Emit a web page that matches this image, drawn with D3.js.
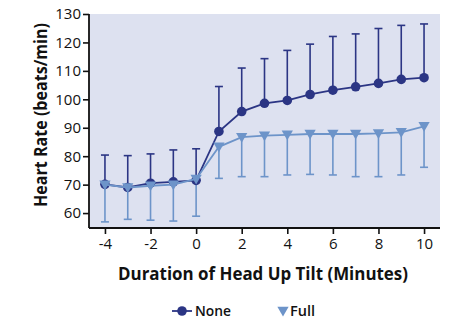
<!DOCTYPE html>
<html>
<head>
<meta charset="utf-8">
<script src="https://cdn.jsdelivr.net/npm/d3@7"></script>
<style>
  body { margin: 0; background: #fff; }
  svg text { font-family: "Open Sans", sans-serif; fill: #111; }
</style>
</head>
<body>
<svg id="chart" width="450" height="319"></svg>
<script>
const minutes = [-4, -3, -2, -1, 0, 1, 2, 3, 4, 5, 6, 7, 8, 9, 10];
const noneMean = [70.1, 69.0, 70.5, 71.0, 71.5, 88.7, 95.7, 98.6, 99.6, 101.7, 103.2, 104.4, 105.6, 107.0, 107.6];
const noneUpper = [80.4, 80.2, 80.8, 82.2, 82.6, 104.5, 111.0, 114.3, 117.2, 119.4, 122.1, 123.0, 124.9, 126.0, 126.5];
const fullMean = [70.0, 69.0, 69.6, 70.0, 72.0, 83.3, 86.7, 87.2, 87.5, 87.8, 87.8, 87.8, 88.0, 88.4, 90.5];
const fullLower = [56.9, 57.8, 57.5, 57.2, 58.9, 72.2, 72.8, 72.8, 73.4, 73.6, 73.4, 72.8, 72.8, 73.4, 76.1];
const xTicks = [-4, -2, 0, 2, 4, 6, 8, 10];
const yTicks = [60, 70, 80, 90, 100, 110, 120, 130];

const NoneColor = '#2b3584';
const FullColor = '#6d94c9';
const PlotBg = '#dde1f0';

const svg = d3.select('#chart');
const plot = { left: 89, right: 440, top: 14, bottom: 228 };

const x = d3.scaleLinear().domain([-4.7, 10.7]).range([plot.left, plot.right]);
const y = d3.scaleLinear().domain([54.75, 130]).range([plot.bottom, plot.top]);

svg.append('rect')
  .attr('x', plot.left).attr('y', plot.top)
  .attr('width', plot.right - plot.left).attr('height', plot.bottom - plot.top)
  .attr('fill', PlotBg);

const yAxis = svg.append('g')
  .attr('transform', `translate(${plot.left},0)`)
  .call(d3.axisLeft(y).tickValues(yTicks).tickFormat(String)
    .tickSize(6).tickPadding(2).tickSizeOuter(0));
const xAxis = svg.append('g')
  .attr('transform', `translate(0,${plot.bottom})`)
  .call(d3.axisBottom(x).tickValues(xTicks).tickFormat(String)
    .tickSize(6).tickPadding(4).tickSizeOuter(0));

[xAxis, yAxis].forEach(axis => {
  axis.select('.domain').attr('stroke', '#111').attr('stroke-width', 1.8);
  axis.selectAll('.tick line').attr('stroke', '#111').attr('stroke-width', 1.6);
  axis.selectAll('.tick text')
    .attr('font-family', '"Open Sans", sans-serif')
    .attr('font-size', 15)
    .attr('fill', '#111');
});
yAxis.select('.domain').attr('d', `M0,${plot.bottom}V${plot.top}`);
xAxis.select('.domain').attr('d', `M${plot.left},0H${plot.right}`);

const rows = minutes.map((m, i) => ({
  m, none: noneMean[i], up: noneUpper[i], full: fullMean[i], low: fullLower[i]
}));

// error bars
const drawBars = (key, end, color) => {
  const g = svg.append('g').attr('stroke', color).attr('stroke-width', 1.6);
  g.selectAll('line.stem').data(rows).enter().append('line')
    .attr('x1', d => x(d.m)).attr('x2', d => x(d.m))
    .attr('y1', d => y(d[key])).attr('y2', d => y(d[end]));
  g.selectAll('line.cap').data(rows).enter().append('line')
    .attr('x1', d => x(d.m) - 4).attr('x2', d => x(d.m) + 4)
    .attr('y1', d => y(d[end])).attr('y2', d => y(d[end]));
};
drawBars('none', 'up', NoneColor);
drawBars('full', 'low', FullColor);

const line = key => d3.line().x(d => x(d.m)).y(d => y(d[key]));

svg.append('path').datum(rows)
  .attr('d', line('none')).attr('fill', 'none')
  .attr('stroke', NoneColor).attr('stroke-width', 1.8);
svg.selectAll('circle.none').data(rows).enter().append('circle')
  .attr('cx', d => x(d.m)).attr('cy', d => y(d.none)).attr('r', 4.8)
  .attr('fill', NoneColor);

svg.append('path').datum(rows)
  .attr('d', line('full')).attr('fill', 'none')
  .attr('stroke', FullColor).attr('stroke-width', 1.8);
const tri = d3.symbol().type(d3.symbolTriangle).size(55);
svg.selectAll('path.full').data(rows).enter().append('path')
  .attr('d', tri)
  .attr('transform', d => `translate(${x(d.m)},${y(d.full) - 1}) rotate(180)`)
  .attr('fill', FullColor);

// axis titles
svg.append('text')
  .attr('x', 118).attr('y', 280)
  .attr('font-size', 18).attr('font-weight', 700)
  .attr('textLength', 290).attr('lengthAdjust', 'spacingAndGlyphs')
  .text('Duration of Head Up Tilt (Minutes)');
svg.append('text')
  .attr('transform', 'translate(46.5,207) rotate(-90)')
  .attr('font-size', 18).attr('font-weight', 700)
  .attr('textLength', 184).attr('lengthAdjust', 'spacingAndGlyphs')
  .text('Heart Rate (beats/min)');

// legend
const legend = svg.append('g').attr('transform', 'translate(0,311)');
legend.append('line')
  .attr('x1', 172).attr('x2', 192).attr('y1', 0).attr('y2', 0)
  .attr('stroke', NoneColor).attr('stroke-width', 1.8);
legend.append('circle').attr('cx', 182).attr('cy', 0).attr('r', 4.8).attr('fill', NoneColor);
legend.append('text').attr('x', 195).attr('y', 5).attr('font-size', 15).attr('font-weight', 600)
  .attr('textLength', 36).attr('lengthAdjust', 'spacingAndGlyphs').text('None');
legend.append('path').attr('d', tri)
  .attr('transform', 'translate(283,-1) rotate(180)').attr('fill', FullColor);
legend.append('text').attr('x', 290).attr('y', 5).attr('font-size', 15).attr('font-weight', 600)
  .attr('textLength', 25).attr('lengthAdjust', 'spacingAndGlyphs').text('Full');
</script>
</body>
</html>
